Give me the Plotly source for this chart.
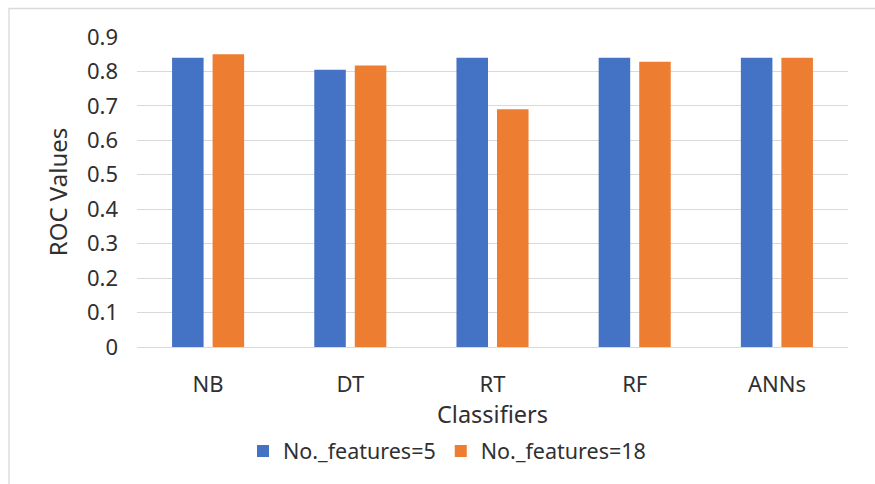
import plotly.graph_objects as go

# ROC values per classifier for two feature-set sizes
classifiers = ["NB", "DT", "RT", "RF", "ANNs"]
roc_5_features = [0.84, 0.805, 0.84, 0.84, 0.84]
roc_18_features = [0.85, 0.817, 0.69, 0.828, 0.84]
y_ticks = [0, 0.1, 0.2, 0.3, 0.4, 0.5, 0.6, 0.7, 0.8, 0.9]

W, H = 875, 484
L, R, T, B = 137, 27, 37, 137
FONT = "Noto Sans"
TEXT = "#303030"
GRID = "#D9D9D9"

fig = go.Figure()
fig.add_trace(go.Bar(x=classifiers, y=roc_5_features, name="No._features=5",
                     marker=dict(color="#4472C4", line=dict(width=0))))
fig.add_trace(go.Bar(x=classifiers, y=roc_18_features, name="No._features=18",
                     marker=dict(color="#ED7D31", line=dict(width=0))))

# outer chart frame, given in pixels and converted to paper units
pw, ph = W - L - R, H - T - B
def px(x):
    return (x - L) / pw
def py(y):
    return (H - B - y) / ph

fig.add_shape(type="rect", xref="paper", yref="paper",
              x0=px(9), x1=px(W + 5), y0=py(H + 5), y1=py(8.5),
              line=dict(color=GRID, width=1.3), fillcolor="rgba(0,0,0,0)",
              layer="below")

fig.update_layout(
    width=W, height=H,
    margin=dict(l=L, r=R, t=T, b=B),
    paper_bgcolor="white", plot_bgcolor="white",
    barmode="group", bargap=0.43, bargroupgap=0.222,
    font=dict(family=FONT, color=TEXT, size=22),
    showlegend=True,
    legend=dict(orientation="h", x=px(447), xanchor="center", y=py(451), yanchor="middle",
                font=dict(size=21.5, color=TEXT), itemwidth=30, traceorder="normal"),
    xaxis=dict(showgrid=False, showline=True, linecolor=GRID, linewidth=1.3,
               tickfont=dict(size=22, color=TEXT), ticks="", ticklabelstandoff=17,
               title=dict(text="Classifiers", font=dict(size=23.5, color=TEXT), standoff=6)),
    yaxis=dict(range=[0, 0.9], tickvals=y_ticks, ticktext=[f"{v:g}" for v in y_ticks],
               showgrid=True, gridcolor=GRID, gridwidth=1.3, zeroline=False,
               showline=False, ticks="", ticklabelstandoff=18,
               tickfont=dict(size=22, color=TEXT),
               title=dict(text="ROC Values", font=dict(size=24, color=TEXT), standoff=12)),
)

fig.write_html("out.html")
